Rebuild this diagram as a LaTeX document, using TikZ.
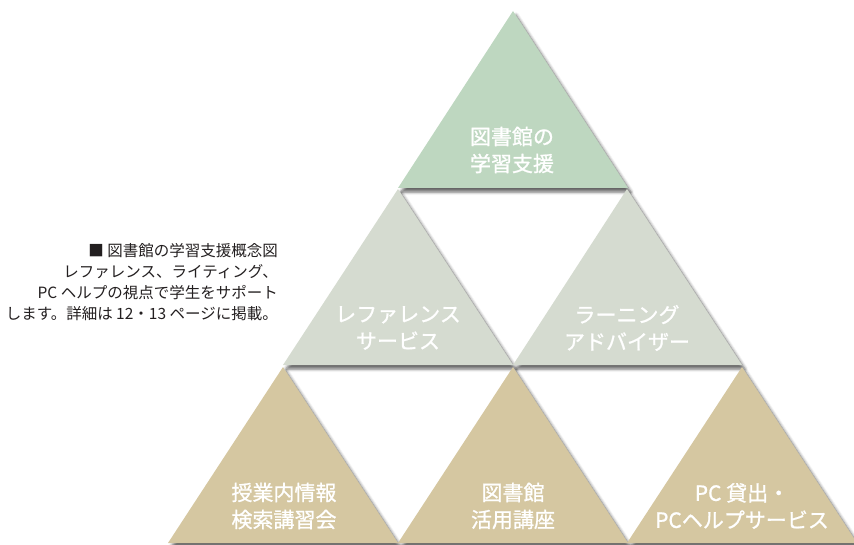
\documentclass[tikz,border=0pt]{standalone}
\usepackage{fontspec}
\setmainfont{Noto Sans CJK JP}
\newfontfamily\trifont{Noto Sans CJK JP}[FakeBold=1.0]
\usetikzlibrary{shadows.blur}
\definecolor{topgreen}{HTML}{BED7C0}
\definecolor{midgrey}{HTML}{D5DBD0}
\definecolor{bottan}{HTML}{D5C7A1}
\definecolor{captxt}{HTML}{231F20}
\tikzset{
  tri/.style={blur shadow={shadow xshift=3pt, shadow yshift=-4pt, shadow blur radius=3pt, shadow opacity=60}},
  trilabel/.style={text=white, align=center, font=\trifont\fontsize{21}{27}\selectfont, inner sep=0pt},
  captext/.style={text=captxt, anchor=east, font=\fontsize{15.5}{18}\selectfont, inner sep=0pt}
}
\begin{document}
\begin{tikzpicture}[x=1pt,y=-1pt]
\useasboundingbox (0,0) rectangle (854,545);
% top
\fill[topgreen, tri] (513,11) -- (628,188) -- (398,188) -- cycle;
% middle
\fill[midgrey, tri] (398,189) -- (513,365) -- (283,365) -- cycle;
\fill[midgrey, tri] (627,189) -- (742,365) -- (513,365) -- cycle;
% bottom
\fill[bottan, tri] (283,367) -- (398,543) -- (168,543) -- cycle;
\fill[bottan, tri] (513,367) -- (628,543) -- (398,543) -- cycle;
\fill[bottan, tri] (742,367) -- (857,543) -- (627,543) -- cycle;
% labels
\node[trilabel] (t1) at (512,150) {図書館の\\学習支援};
\node[trilabel] (m1) at (398,328) {レファレンス\\サービス};
\node[trilabel] (m2) at (627,328) {ラーニング\\アドバイザー};
\node[trilabel] (b1) at (284,506) {授業内情報\\検索講習会};
\node[trilabel] (b2) at (513,506) {図書館\\活用講座};
\node[trilabel] (b3) at (742,506) {PC 貸出・\\PCヘルプサービス};
% caption
\node[captext] (c1) at (278,251) {■ 図書館の学習支援概念図};
\node[captext] (c2) at (278,272) {レファレンス、ライティング、};
\node[captext] (c3) at (278,293) {PC ヘルプの視点で学生をサポート};
\node[captext] (c4) at (278,314) {します。詳細は 12・13 ページに掲載。};
\end{tikzpicture}
\end{document}
